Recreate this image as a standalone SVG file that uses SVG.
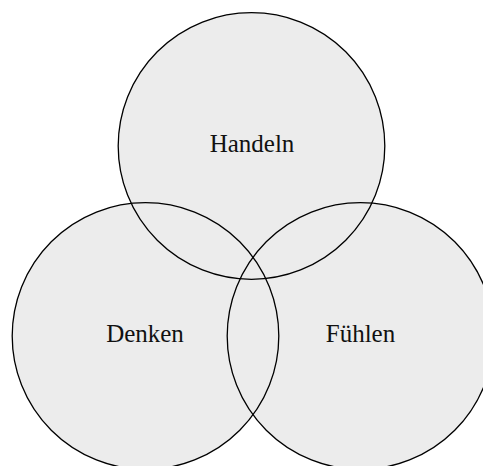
<svg xmlns="http://www.w3.org/2000/svg" xmlns:xlink="http://www.w3.org/1999/xlink" width="483" height="466" viewBox="0 0 483 466">
<style>
.fill{fill:#ececec;stroke:none}
.ring{fill:none;stroke:#000;stroke-width:1.3}
.lbl{font-family:"Liberation Serif","DejaVu Serif",serif;font-size:25px;fill:#111;text-anchor:middle}
</style>
<defs>
<circle id="cH" cx="251.5" cy="146" r="133.3"/>
<circle id="cD" cx="145.5" cy="336" r="133.3"/>
<circle id="cF" cx="360.5" cy="336" r="133.3"/>
</defs>
<rect width="483" height="466" fill="#fff"/>
<g id="handeln"><use xlink:href="#cH" class="fill"/></g>
<g id="denken"><use xlink:href="#cD" class="fill"/></g>
<g id="fuehlen"><use xlink:href="#cF" class="fill"/></g>
<g id="outlines">
<use xlink:href="#cH" class="ring"/>
<use xlink:href="#cD" class="ring"/>
<use xlink:href="#cF" class="ring"/>
</g>
<g id="labels">
<text class="lbl" x="252" y="152">Handeln</text>
<text class="lbl" x="145" y="342">Denken</text>
<text class="lbl" x="360.5" y="342">Fühlen</text>
</g>
</svg>
